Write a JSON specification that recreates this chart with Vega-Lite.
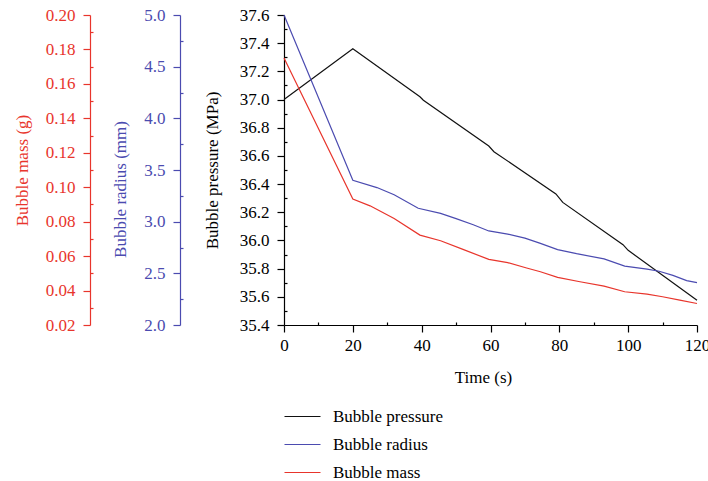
{
  "$schema": "https://vega.github.io/schema/vega-lite/v6.json",
  "autosize": "none",
  "width": 413,
  "height": 310,
  "padding": {"left": 284, "top": 15, "right": 11, "bottom": 156},
  "background": "white",
  "config": {
    "view": {"stroke": null},
    "font": "Liberation Serif",
    "style": {"guide-title": {"fontWeight": 400}},
    "axis": {
      "labelFont": "Liberation Serif",
      "titleFont": "Liberation Serif",
      "labelFontSize": 17,
      "titleFontSize": 17,
      "titleFontWeight": 400,
      "grid": false,
      "domainWidth": 1.2,
      "tickWidth": 1.2,
      "labelFlush": false
    },
    "legend": {
      "orient": "none",
      "legendX": -2,
      "legendY": 393,
      "padding": 0,
      "symbolType": "M-1,0H5",
      "symbolSize": 144,
      "symbolStrokeWidth": 1.3,
      "labelOffset": 34,
      "rowPadding": 10,
      "labelFont": "Liberation Serif",
      "labelFontSize": 17,
      "labelColor": "black"
    },
    "line": {"strokeWidth": 1.2}
  },
  "datasets": {
    "pressure": [
      {"t": 0, "v": 37.0},
      {"t": 20, "v": 37.36},
      {"t": 39.5, "v": 37.02},
      {"t": 40.5, "v": 36.995},
      {"t": 59.5, "v": 36.67},
      {"t": 61, "v": 36.63},
      {"t": 79, "v": 36.33},
      {"t": 81, "v": 36.27},
      {"t": 98.5, "v": 35.97},
      {"t": 100, "v": 35.93},
      {"t": 120, "v": 35.575}
    ],
    "radius": [
      {"t": 0, "v": 5.0},
      {"t": 20, "v": 3.40},
      {"t": 27, "v": 3.33},
      {"t": 32, "v": 3.26},
      {"t": 39, "v": 3.13},
      {"t": 45.5, "v": 3.08},
      {"t": 50, "v": 3.03},
      {"t": 55, "v": 2.97},
      {"t": 59.5, "v": 2.91},
      {"t": 65, "v": 2.88},
      {"t": 70, "v": 2.84},
      {"t": 74.5, "v": 2.79},
      {"t": 79.5, "v": 2.73},
      {"t": 85, "v": 2.69},
      {"t": 93, "v": 2.64},
      {"t": 99, "v": 2.57},
      {"t": 105.5, "v": 2.54},
      {"t": 109, "v": 2.52},
      {"t": 113, "v": 2.48},
      {"t": 117, "v": 2.43},
      {"t": 120, "v": 2.41}
    ],
    "mass": [
      {"t": 0, "v": 0.175},
      {"t": 20, "v": 0.0931},
      {"t": 25, "v": 0.0892},
      {"t": 32, "v": 0.0819},
      {"t": 39.5, "v": 0.0722},
      {"t": 45.5, "v": 0.0689},
      {"t": 52, "v": 0.0639},
      {"t": 59.5, "v": 0.0581},
      {"t": 65, "v": 0.0562},
      {"t": 70.5, "v": 0.0531},
      {"t": 74.5, "v": 0.0509},
      {"t": 79.5, "v": 0.0477},
      {"t": 86, "v": 0.0451},
      {"t": 93, "v": 0.0426},
      {"t": 99, "v": 0.0393},
      {"t": 105.5, "v": 0.0379},
      {"t": 110, "v": 0.0364},
      {"t": 115, "v": 0.0344},
      {"t": 120, "v": 0.0325}
    ]
  },
  "layer": [
    {
      "data": {"name": "pressure"},
      "mark": {"type": "line", "clip": false},
      "encoding": {
        "x": {"field": "t", "type": "quantitative", "scale": {"domain": [0, 120], "nice": false, "zero": false},
          "axis": {"orient": "bottom", "values": [0, 20, 40, 60, 80, 100, 120], "title": "Time (s)", "titleFontWeight": 400, "titleX": 199, "tickSize": 7, "labelPadding": 5, "titlePadding": 16, "domainColor": "black", "tickColor": "black", "labelColor": "black", "titleColor": "black"}},
        "y": {"field": "v", "type": "quantitative", "scale": {"domain": [35.4, 37.6], "nice": false, "zero": false},
          "axis": {"orient": "left", "offset": 0, "values": [35.4, 35.6, 35.8, 36.0, 36.2, 36.4, 36.6, 36.8, 37.0, 37.2, 37.4, 37.6], "format": ".1f", "title": "Bubble pressure (MPa)", "titleFontWeight": 400, "tickSize": 7, "labelPadding": 8, "titlePadding": 18, "domainColor": "black", "tickColor": "black", "labelColor": "black", "titleColor": "black"}},
        "color": {"datum": "Bubble pressure", "type": "nominal",
          "scale": {"domain": ["Bubble pressure", "Bubble radius", "Bubble mass"], "range": ["#111111", "#4b4bb0", "#e8352c"]},
          "legend": {"title": null}}
      }
    },
    {
      "data": {"name": "pressure"},
      "mark": {"type": "line", "strokeOpacity": 0},
      "encoding": {
        "x": {"field": "t", "type": "quantitative", "scale": {"domain": [0, 120], "nice": false, "zero": false},
          "axis": {"orient": "bottom", "values": [10, 30, 50, 70, 90, 110], "labels": false, "domain": false, "title": null, "tickSize": -3, "tickColor": "black"}},
        "y": {"field": "v", "type": "quantitative", "scale": {"domain": [35.4, 37.6], "nice": false, "zero": false},
          "axis": {"orient": "left", "offset": 0, "values": [35.5, 35.7, 35.9, 36.1, 36.3, 36.5, 36.7, 36.9, 37.1, 37.3, 37.5], "labels": false, "domain": false, "title": null, "tickSize": -3, "tickColor": "black"}}
      }
    },
    {
      "data": {"name": "radius"},
      "mark": {"type": "line", "clip": false},
      "encoding": {
        "x": {"field": "t", "type": "quantitative", "scale": {"domain": [0, 120], "nice": false, "zero": false}, "axis": null},
        "y": {"field": "v", "type": "quantitative", "scale": {"domain": [2.0, 5.0], "nice": false, "zero": false},
          "axis": {"orient": "left", "offset": 104, "values": [2.0, 2.5, 3.0, 3.5, 4.0, 4.5, 5.0], "format": ".1f", "title": "Bubble radius (mm)", "titleFontWeight": 400, "titleY": 174, "tickSize": 7, "labelPadding": 8, "titlePadding": 14, "domainColor": "#4b4bb0", "tickColor": "#4b4bb0", "labelColor": "#4b4bb0", "titleColor": "#4b4bb0"}},
        "color": {"datum": "Bubble radius", "type": "nominal"}
      }
    },
    {
      "data": {"name": "radius"},
      "mark": {"type": "line", "strokeOpacity": 0},
      "encoding": {
        "x": {"field": "t", "type": "quantitative", "scale": {"domain": [0, 120], "nice": false, "zero": false}, "axis": null},
        "y": {"field": "v", "type": "quantitative", "scale": {"domain": [2.0, 5.0], "nice": false, "zero": false},
          "axis": {"orient": "left", "offset": 104, "values": [2.25, 2.75, 3.25, 3.75, 4.25, 4.75], "labels": false, "domain": false, "title": null, "tickSize": -3, "tickColor": "#4b4bb0"}}
      }
    },
    {
      "data": {"name": "mass"},
      "mark": {"type": "line", "clip": false},
      "encoding": {
        "x": {"field": "t", "type": "quantitative", "scale": {"domain": [0, 120], "nice": false, "zero": false}, "axis": null},
        "y": {"field": "v", "type": "quantitative", "scale": {"domain": [0.02, 0.20], "nice": false, "zero": false},
          "axis": {"orient": "left", "offset": 194, "values": [0.02, 0.04, 0.06, 0.08, 0.10, 0.12, 0.14, 0.16, 0.18, 0.20], "format": ".2f", "title": "Bubble mass (g)", "titleFontWeight": 400, "tickSize": 7, "labelPadding": 8, "titlePadding": 14, "domainColor": "#e8352c", "tickColor": "#e8352c", "labelColor": "#e8352c", "titleColor": "#e8352c"}},
        "color": {"datum": "Bubble mass", "type": "nominal"}
      }
    },
    {
      "data": {"name": "mass"},
      "mark": {"type": "line", "strokeOpacity": 0},
      "encoding": {
        "x": {"field": "t", "type": "quantitative", "scale": {"domain": [0, 120], "nice": false, "zero": false}, "axis": null},
        "y": {"field": "v", "type": "quantitative", "scale": {"domain": [0.02, 0.20], "nice": false, "zero": false},
          "axis": {"orient": "left", "offset": 194, "values": [0.03, 0.05, 0.07, 0.09, 0.11, 0.13, 0.15, 0.17, 0.19], "labels": false, "domain": false, "title": null, "tickSize": -3, "tickColor": "#e8352c"}}
      }
    }
  ],
  "resolve": {"scale": {"x": "independent", "y": "independent"}}
}
